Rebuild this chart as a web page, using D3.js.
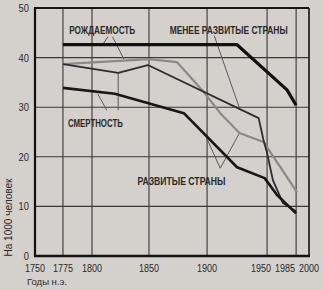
<!DOCTYPE html>
<html><head><meta charset="utf-8">
<script src="https://cdn.jsdelivr.net/npm/d3@7"></script>
<style>
html,body{margin:0;padding:0;background:#d4d0cc;}
svg{display:block;}
text{font-family:"Liberation Sans","DejaVu Sans",sans-serif;fill:#2a2a2a;}
</style></head>
<body><svg id="c" width="324" height="290"></svg>
<script>
// ---- data ----
const xTicks = [1750, 1775, 1800, 1850, 1900, 1950, 1985, 2000];
const yTicks = [0, 10, 20, 30, 40, 50];
const ldcBirthYears = [1775, 1925, 1974, 1985];
const ldcBirthValues = [42.6, 42.6, 33.5, 30.4];
const ldcDeathYears = [1775, 1823, 1849, 1943, 1947, 1950, 1957, 1969, 1985];
const ldcDeathValues = [38.7, 36.9, 38.5, 27.8, 23.4, 20.8, 15.3, 10.7, 9.0];
const devBirthYears = [1775, 1850, 1874, 1897, 1911, 1927, 1947, 1986];
const devBirthValues = [38.7, 39.7, 39.1, 33.1, 28.8, 24.8, 23.0, 12.9];
const devDeathYears = [1775, 1820, 1880, 1925, 1948, 1962, 1985];
const devDeathValues = [33.9, 32.7, 28.8, 17.9, 15.7, 12.3, 8.6];
const labelTexts = ["РОЖДАЕМОСТЬ", "МЕНЕЕ РАЗВИТЫЕ СТРАНЫ", "СМЕРТНОСТЬ", "РАЗВИТЫЕ СТРАНЫ"];
const labelYears = [1809, 1918, 1803, 1878];
const labelValues = [45.6, 45.6, 26.8, 15.2];
// pointer segments: [year1, value1, year2, value2]
const pointers = [
  [1814, 44.2, 1809, 42.5],
  [1818, 44.2, 1828, 39.7],
  [1813, 29.4, 1805, 32.7],
  [1823, 29.4, 1823, 36.9],
  [1906, 44.4, 1927, 29.8],
  [1911, 17.7, 1898, 24.6],
  [1911, 17.7, 1927, 24.8]
];
const yTitle = "На 1000 человек";
const xTitle = "Годы н.э.";

// ---- layout / style ----
const L = 35, R = 309, T = 8, B = 256;
const W = R - L;
const tickFrac = [0, 0.102, 0.208, 0.416, 0.628, 0.847, 0.953, 1];
const labelWidths = [66, 118, 55, 88];
const x = d3.scaleLinear().domain(xTicks).range(tickFrac.map(f => L + f * W));
const y = d3.scaleLinear().domain([0, 50]).range([B, T]);

const svg = d3.select("#c");

// grid
const g = svg.append("g");
g.selectAll("line.h").data(yTicks.slice(1, -1)).join("line")
  .attr("x1", L).attr("x2", R).attr("y1", d => y(d)).attr("y2", d => y(d))
  .attr("stroke", "#383838").attr("stroke-width", 1.1);
g.selectAll("line.v").data(xTicks.slice(1, -1)).join("line")
  .attr("y1", T).attr("y2", B).attr("x1", d => x(d)).attr("x2", d => x(d))
  .attr("stroke", "#383838").attr("stroke-width", 1.1);

// borders
svg.append("line").attr("x1", L).attr("x2", R).attr("y1", T).attr("y2", T).attr("stroke", "#151515").attr("stroke-width", 2);
svg.append("line").attr("x1", R).attr("x2", R).attr("y1", T).attr("y2", B).attr("stroke", "#151515").attr("stroke-width", 1.6);

// pointers
svg.append("g").selectAll("line").data(pointers).join("line")
  .attr("x1", d => x(d[0])).attr("y1", d => y(d[1]))
  .attr("x2", d => x(d[2])).attr("y2", d => y(d[3]))
  .attr("stroke", "#5a5a5a").attr("stroke-width", 1);

// series
const line = d3.line().x(d => x(d[0])).y(d => y(d[1]));
const zip = (a, b) => a.map((v, i) => [v, b[i]]);
const series = [
  {pts: zip(devBirthYears, devBirthValues), color: "#8c8a88", w: 2.2},
  {pts: zip(ldcDeathYears, ldcDeathValues), color: "#2e2e2e", w: 1.8},
  {pts: zip(devDeathYears, devDeathValues), color: "#171717", w: 2.6},
  {pts: zip(ldcBirthYears, ldcBirthValues), color: "#111", w: 3.2}
];
svg.append("g").selectAll("path").data(series).join("path")
  .attr("d", d => line(d.pts)).attr("fill", "none")
  .attr("stroke", d => d.color).attr("stroke-width", d => d.w)
  .attr("stroke-linejoin", "round");

// axes lines
svg.append("line").attr("x1", L).attr("x2", L).attr("y1", T - 1).attr("y2", B + 1).attr("stroke", "#111").attr("stroke-width", 2.2);
svg.append("line").attr("x1", L - 1).attr("x2", R + 1).attr("y1", B).attr("y2", B).attr("stroke", "#111").attr("stroke-width", 2.6);

// y tick labels
svg.append("g").selectAll("text").data(yTicks).join("text")
  .attr("x", L - 6).attr("y", d => y(d) + 4)
  .attr("text-anchor", "end").attr("font-size", 10.5)
  .attr("textLength", d => String(d).length * 5.2).attr("lengthAdjust", "spacingAndGlyphs")
  .text(d => d);

// x tick labels with right-to-left collision avoidance
const xs = xTicks.map(d => x(d));
const lw = 20, gap = 4;
for (let i = xs.length - 2; i >= 0; i--) xs[i] = Math.min(xs[i], xs[i + 1] - lw - gap);
svg.append("g").selectAll("text").data(xTicks).join("text")
  .attr("x", (d, i) => xs[i]).attr("y", B + 16)
  .attr("text-anchor", "middle").attr("font-size", 10.5)
  .attr("textLength", lw).attr("lengthAdjust", "spacingAndGlyphs")
  .text(d => d);

// titles
svg.append("text").attr("transform", `translate(12,${(y(0)+y(15.5))/2}) rotate(-90)`)
  .attr("text-anchor", "middle").attr("font-size", 10)
  .attr("textLength", 78).attr("lengthAdjust", "spacingAndGlyphs").text(yTitle);
svg.append("text").attr("x", 27).attr("y", 285).attr("font-size", 9.5)
  .attr("textLength", 40).attr("lengthAdjust", "spacingAndGlyphs").text(xTitle);

// series labels
svg.append("g").selectAll("text").data(labelTexts).join("text")
  .attr("x", (d, i) => x(labelYears[i])).attr("y", (d, i) => y(labelValues[i]) + 4)
  .attr("text-anchor", "middle").attr("font-size", 10.5).attr("font-weight", "bold")
  .attr("textLength", (d, i) => labelWidths[i]).attr("lengthAdjust", "spacingAndGlyphs")
  .attr("fill", "#1e1e1e").text(d => d);
</script></body></html>
